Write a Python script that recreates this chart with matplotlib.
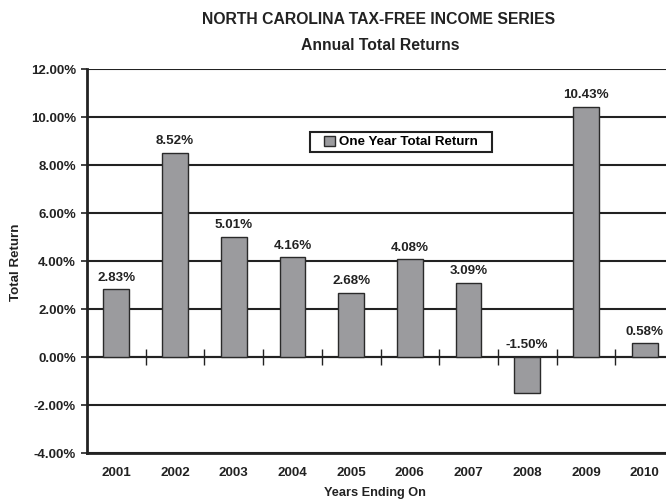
import matplotlib
matplotlib.use("Agg")
import matplotlib.pyplot as plt
from matplotlib.patches import Rectangle
from matplotlib.ticker import FuncFormatter

years = ["2001", "2002", "2003", "2004", "2005", "2006", "2007", "2008", "2009", "2010"]
returns = [2.83, 8.52, 5.01, 4.16, 2.68, 4.08, 3.09, -1.50, 10.43, 0.58]
yticks = [-4, -2, 0, 2, 4, 6, 8, 10, 12]

plt.rcParams['font.family'] = ['Liberation Sans', 'DejaVu Sans']
plt.rcParams['font.weight'] = 'bold'
ink = "#222222"

fig = plt.figure(figsize=(6.66, 4.99), dpi=100)
# axes run slightly past the right edge of the picture, as in the original
ax = fig.add_axes([87 / 666, 1 - 453 / 499, 587 / 666, 384 / 499])

x = list(range(len(years)))
ax.bar(x, returns, width=0.44, color="#9b9b9e", edgecolor="#2a2a2a",
       linewidth=1.0, zorder=3, label="One Year Total Return")

for xi, v in zip(x, returns):
    ax.annotate(f"{v:.2f}%", (xi, max(v, 0)), xytext=(0, 4), textcoords="offset points",
                ha="center", va="bottom", fontsize=9.6, fontweight="bold", color=ink)

ax.set_xlim(-0.5, len(years) - 0.5)
ax.set_ylim(-4, 12)
ax.set_yticks(yticks)
ax.yaxis.set_major_formatter(FuncFormatter(lambda v, p: f"{v:.2f}%"))
ax.set_xticks(x)
ax.set_xticklabels(years)
ax.tick_params(axis="x", length=0, pad=10, labelsize=9.6, colors=ink)
ax.tick_params(axis="y", length=4, width=1.2, pad=4, labelsize=9.5, colors=ink)

ax.yaxis.grid(True, color=ink, linewidth=1.5, zorder=1)
# category separator ticks on the zero line
seps = [i + 0.5 for i in x[:-1]]
ax.vlines(seps, -0.35, 0.35, color=ink, linewidth=1.0, zorder=4)
ax.axhline(0, color=ink, linewidth=1.5, zorder=2)

for s in ["top", "right"]:
    ax.spines[s].set_visible(False)
for s in ["left", "bottom"]:
    ax.spines[s].set_linewidth(2.0)
    ax.spines[s].set_color(ink)

ax.set_xlabel("Years Ending On", fontsize=9.2, fontweight="bold", color=ink)
ax.set_ylabel("Total Return", fontsize=9.6, fontweight="bold", color=ink)
ax.xaxis.set_label_coords((375 - 87) / 587, -(493 - 453) / 384)
ax.yaxis.set_label_coords(-(87 - 16) / 587, (453 - 262) / 384)
ax.xaxis.label.set_va("center")
ax.yaxis.label.set_va("center")

fig.text(379 / 666, 1 - 19 / 499, "NORTH CAROLINA TAX-FREE INCOME SERIES", ha="center",
         va="center", fontsize=11.3, fontweight="bold", color=ink)
fig.text(380 / 666, 1 - 45 / 499, "Annual Total Returns", ha="center", va="center",
         fontsize=11.3, fontweight="bold", color=ink)

# legend without its own frame, boxed by a wider rectangle like the original
leg = ax.legend(loc="center", bbox_to_anchor=((401 - 87) / 587, (453 - 142) / 384),
                fontsize=9.6, frameon=False, handlelength=0.8, handleheight=0.8,
                handletextpad=0.3, borderpad=0.3)
leg.set_zorder(6)
box = Rectangle(((310 - 87) / 587, (453 - 152) / 384), 182 / 587, 20 / 384,
                transform=ax.transAxes, facecolor="white", edgecolor=ink,
                linewidth=1.5, zorder=5)
ax.add_patch(box)

fig.savefig("out.png", dpi=100)
